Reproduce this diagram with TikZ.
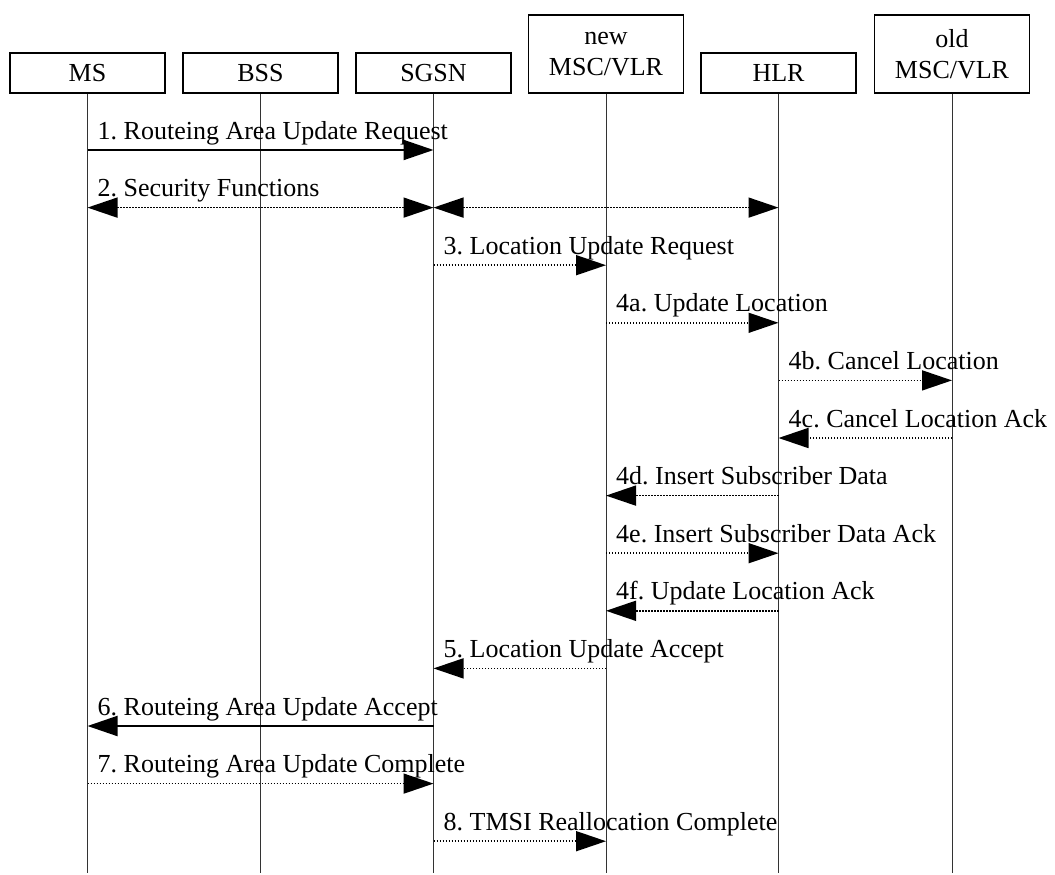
\documentclass[tikz,border=0pt]{standalone}
\usepackage{fontspec}
\setmainfont{Liberation Serif}
\usetikzlibrary{arrows.meta}
\begin{document}
\frenchspacing
\begin{tikzpicture}[x=1pt,y=-1pt,
  font=\fontsize{26}{31}\selectfont,
  Big/.tip={Triangle[length=30pt,width=20pt]},
  ent/.style={draw, line width=1.4pt, minimum width=155pt, minimum height=40pt, inner sep=0pt, align=center},
  ent2/.style={ent, minimum height=78pt},
  life/.style={line width=1pt, draw=black!80},
  msgsolid/.style={line width=2pt, -Big},
  msgdot/.style={line width=1.6pt, dash pattern=on 1.4pt off 1.6pt, -Big},
  lbl/.style={anchor=base west, inner sep=0pt}]
\useasboundingbox (0,0) rectangle (1055,875);

% entities
\node[ent]  (ms)     at (87.5,73) {MS};
\node[ent]  (bss)    at (260.5,73) {BSS};
\node[ent]  (sgsn)   at (433.5,73) {SGSN};
\node[ent2] (newmsc) at (606,54) {new\\MSC/VLR};
\node[ent]  (hlr)    at (778.5,73) {HLR};
\node[ent2] (oldmsc) at (952,54) {old\\MSC/VLR};

% lifelines
\coordinate (bottom) at (0,873);
\foreach \n in {ms,bss,sgsn,newmsc,hlr,oldmsc}
  \draw[life] (\n.south) -- (\n.south |- bottom);

% message rows
\coordinate (r1)  at (0,150);
\coordinate (r2)  at (0,207.6);
\coordinate (r3)  at (0,265.2);
\coordinate (r4)  at (0,322.8);
\coordinate (r5)  at (0,380.4);
\coordinate (r6)  at (0,438);
\coordinate (r7)  at (0,495.6);
\coordinate (r8)  at (0,553.2);
\coordinate (r9)  at (0,610.8);
\coordinate (r10) at (0,668.4);
\coordinate (r11) at (0,726);
\coordinate (r12) at (0,783.6);
\coordinate (r13) at (0,841.2);

% messages
\draw[msgsolid] (ms |- r1) -- (sgsn |- r1);
\draw[msgdot, Big-Big] (ms |- r2) -- (sgsn |- r2);
\draw[msgdot, Big-Big] (sgsn |- r2) -- (hlr |- r2);
\draw[msgdot] (sgsn |- r3) -- (newmsc |- r3);
\draw[msgdot] (newmsc |- r4) -- (hlr |- r4);
\draw[msgdot] (hlr |- r5) -- (oldmsc |- r5);
\draw[msgdot] (oldmsc |- r6) -- (hlr |- r6);
\draw[msgdot] (hlr |- r7) -- (newmsc |- r7);
\draw[msgdot] (newmsc |- r8) -- (hlr |- r8);
\draw[msgdot] (hlr |- r9) -- (newmsc |- r9);
\draw[msgdot] (newmsc |- r10) -- (sgsn |- r10);
\draw[msgsolid] (sgsn |- r11) -- (ms |- r11);
\draw[msgdot] (ms |- r12) -- (sgsn |- r12);
\draw[msgdot] (sgsn |- r13) -- (newmsc |- r13);

% labels
\node[lbl] (l1)  at ([xshift=10pt,yshift=11pt]ms |- r1) {1. Routeing Area Update Request};
\node[lbl] (l2)  at ([xshift=10pt,yshift=11pt]ms |- r2) {2. Security Functions};
\node[lbl] (l3)  at ([xshift=10pt,yshift=11pt]sgsn |- r3) {3. Location Update Request};
\node[lbl] (l4a) at ([xshift=10pt,yshift=11pt]newmsc |- r4) {4a. Update Location};
\node[lbl] (l4b) at ([xshift=10pt,yshift=11pt]hlr |- r5) {4b. Cancel Location};
\node[lbl] (l4c) at ([xshift=10pt,yshift=11pt]hlr |- r6) {4c. Cancel Location Ack};
\node[lbl] (l4d) at ([xshift=10pt,yshift=11pt]newmsc |- r7) {4d. Insert Subscriber Data};
\node[lbl] (l4e) at ([xshift=10pt,yshift=11pt]newmsc |- r8) {4e. Insert Subscriber Data Ack};
\node[lbl] (l4f) at ([xshift=10pt,yshift=11pt]newmsc |- r9) {4f. Update Location Ack};
\node[lbl] (l5)  at ([xshift=10pt,yshift=11pt]sgsn |- r10) {5. Location Update Accept};
\node[lbl] (l6)  at ([xshift=10pt,yshift=11pt]ms |- r11) {6. Routeing Area Update Accept};
\node[lbl] (l7)  at ([xshift=10pt,yshift=11pt]ms |- r12) {7. Routeing Area Update Complete};
\node[lbl] (l8)  at ([xshift=10pt,yshift=11pt]sgsn |- r13) {8. TMSI Reallocation Complete};
\end{tikzpicture}
\end{document}
